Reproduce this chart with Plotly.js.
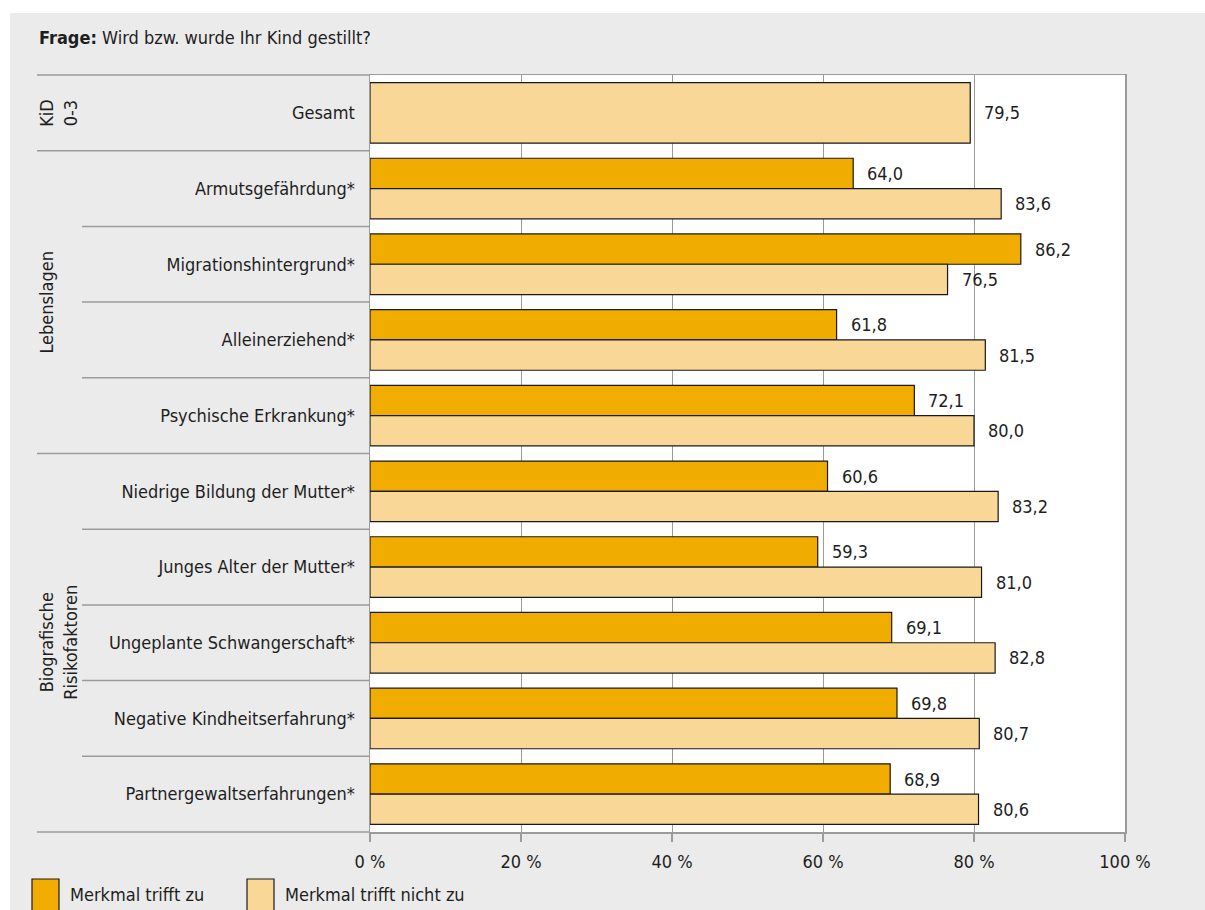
<!DOCTYPE html>
<html>
<head>
<meta charset="utf-8">
<script src="https://cdn.plot.ly/plotly-3.0.1.min.js"></script>
<style>
  html, body { margin: 0; padding: 0; background: #ffffff; }
  #chart { width: 1205px; height: 910px; }
</style>
</head>
<body>
<div id="chart"></div>
<script>
// ---- Data ----
const categories = [
  'Gesamt',
  'Armutsgefährdung*',
  'Migrationshintergrund*',
  'Alleinerziehend*',
  'Psychische Erkrankung*',
  'Niedrige Bildung der Mutter*',
  'Junges Alter der Mutter*',
  'Ungeplante Schwangerschaft*',
  'Negative Kindheitserfahrung*',
  'Partnergewaltserfahrungen*'
];
const trifftZu =      [null, 64.0, 86.2, 61.8, 72.1, 60.6, 59.3, 69.1, 69.8, 68.9];
const trifftNichtZu = [79.5, 83.6, 76.5, 81.5, 80.0, 83.2, 81.0, 82.8, 80.7, 80.6];
const seriesNames = ['Merkmal trifft zu', 'Merkmal trifft nicht zu'];
const groupLabels = ['KiD<br>0-3', 'Lebenslagen', 'Biografische<br>Risikofaktoren'];
const groupSizes = [1, 4, 5];
const xTickVals = [0, 20, 40, 60, 80, 100];
const xTickLabels = ['0 %', '20 %', '40 %', '60 %', '80 %', '100 %'];
const titleText = '<b>Frage:</b> Wird bzw. wurde Ihr Kind gestillt?';

// ---- Styling / geometry ----
const FONT = '"Liberation Sans Narrow", "DejaVu Sans Condensed", "Roboto Condensed", sans-serif';
const FS = 18;
const TEXT = '#1e1e1e';
const DARK = '#f0ad00';
const LIGHT = '#f8d797';
const OUTLINE = '#1a1a1a';
const GRID = '#9b9b9b';
const BG = '#ebebeb';
const W = 1205, H = 910;
const M = { l: 370, r: 80, t: 75, b: 78 };
const PW = W - M.l - M.r, PH = H - M.t - M.b;
const px = v => (v - M.l) / PW;          // pixel x -> paper x
const py = v => (H - M.b - v) / PH;      // pixel y -> paper y

const N = categories.length;
const pos = categories.map((_, i) => i);
const fmt = v => v.toFixed(1).replace('.', ',');

const lightWidth = trifftZu.map(v => v == null ? 0.8 : 0.4);
const lightOffset = trifftZu.map(v => v == null ? -0.4 : 0);

const traces = [
  {
    type: 'bar', orientation: 'h', name: seriesNames[0],
    y: pos, x: trifftZu, width: 0.4, offset: -0.4,
    marker: { color: DARK, line: { color: OUTLINE, width: 1.2 } },
    hoverinfo: 'none', showlegend: false
  },
  {
    type: 'bar', orientation: 'h', name: seriesNames[1],
    y: pos, x: trifftNichtZu, width: lightWidth, offset: lightOffset,
    marker: { color: LIGHT, line: { color: OUTLINE, width: 1.2 } },
    hoverinfo: 'none', showlegend: false
  }
];

const annotations = [];
const shapes = [];

// white strips framing the grey panel (top and left)
shapes.push({ type: 'rect', xref: 'paper', yref: 'paper', layer: 'below',
  x0: px(0), x1: px(W), y0: py(0), y1: py(13), fillcolor: '#ffffff', line: { width: 0 } });
shapes.push({ type: 'rect', xref: 'paper', yref: 'paper', layer: 'below',
  x0: px(0), x1: px(10), y0: py(0), y1: py(H), fillcolor: '#ffffff', line: { width: 0 } });

// value labels
pos.forEach(i => {
  if (trifftZu[i] != null) {
    annotations.push({ x: trifftZu[i], y: i - 0.2, xref: 'x', yref: 'y', text: fmt(trifftZu[i]),
      showarrow: false, xanchor: 'left', yanchor: 'middle', xshift: 12,
      font: { family: FONT, size: FS, color: TEXT } });
  }
  annotations.push({ x: trifftNichtZu[i], y: trifftZu[i] == null ? i : i + 0.2, xref: 'x', yref: 'y',
    text: fmt(trifftNichtZu[i]), showarrow: false, xanchor: 'left', yanchor: 'middle', xshift: 12,
    font: { family: FONT, size: FS, color: TEXT } });
});

// row separators and group labels
const groupStarts = [];
let acc = 0;
groupSizes.forEach(s => { groupStarts.push(acc); acc += s; });
for (let k = 0; k <= N; k++) {
  const isGroupEdge = k === 0 || k === N || groupStarts.includes(k);
  shapes.push({ type: 'line', xref: 'paper', yref: 'paper',
    x0: px(isGroupEdge ? 37 : 82), x1: 0, y0: 1 - k / N, y1: 1 - k / N,
    line: { color: GRID, width: 1.5 } });
}
groupLabels.forEach((lab, g) => {
  const mid = groupStarts[g] + groupSizes[g] / 2;
  annotations.push({ xref: 'paper', yref: 'paper', x: px(34), y: 1 - mid / N,
    text: lab, textangle: -90, showarrow: false, xanchor: 'left', yanchor: 'middle',
    font: { family: FONT, size: FS, color: TEXT } });
});

// legend (drawn)
const legendX = [32, 247];
const legendColors = [DARK, LIGHT];
seriesNames.forEach((nm, j) => {
  shapes.push({ type: 'rect', xref: 'paper', yref: 'paper',
    x0: px(legendX[j]), x1: px(legendX[j] + 27), y0: py(879), y1: py(912),
    fillcolor: legendColors[j], line: { color: OUTLINE, width: 1.2 } });
  annotations.push({ xref: 'paper', yref: 'paper', x: px(legendX[j] + 36), y: py(895),
    text: nm, showarrow: false, xanchor: 'left', yanchor: 'middle',
    font: { family: FONT, size: FS, color: TEXT } });
});

const layout = {
  width: W, height: H,
  margin: M,
  paper_bgcolor: BG,
  plot_bgcolor: '#ffffff',
  barmode: 'overlay',
  font: { family: FONT, size: FS, color: TEXT },
  title: {
    text: titleText, xref: 'container', yref: 'container',
    x: 39 / W, xanchor: 'left', y: 1 - 38 / H, yanchor: 'middle',
    font: { family: FONT, size: FS, color: TEXT }
  },
  xaxis: {
    range: [0, 100], tickvals: xTickVals, ticktext: xTickLabels,
    showgrid: true, gridcolor: GRID, gridwidth: 1,
    showline: true, linecolor: GRID, linewidth: 1.5, mirror: true,
    ticks: 'outside', ticklen: 8, tickcolor: GRID, tickwidth: 1.5,
    ticklabelstandoff: 5,
    zeroline: false, fixedrange: true,
    tickfont: { family: FONT, size: FS, color: TEXT }
  },
  yaxis: {
    range: [N - 0.5, -0.5], tickvals: pos, ticktext: categories,
    showgrid: false, zeroline: false,
    showline: true, linecolor: GRID, linewidth: 1.5, mirror: true,
    ticks: '', ticklabelstandoff: 10, fixedrange: true,
    tickfont: { family: FONT, size: FS, color: TEXT }
  },
  shapes: shapes,
  annotations: annotations,
  showlegend: false
};

Plotly.newPlot('chart', traces, layout, { displayModeBar: false, staticPlot: true });
</script>
</body>
</html>
